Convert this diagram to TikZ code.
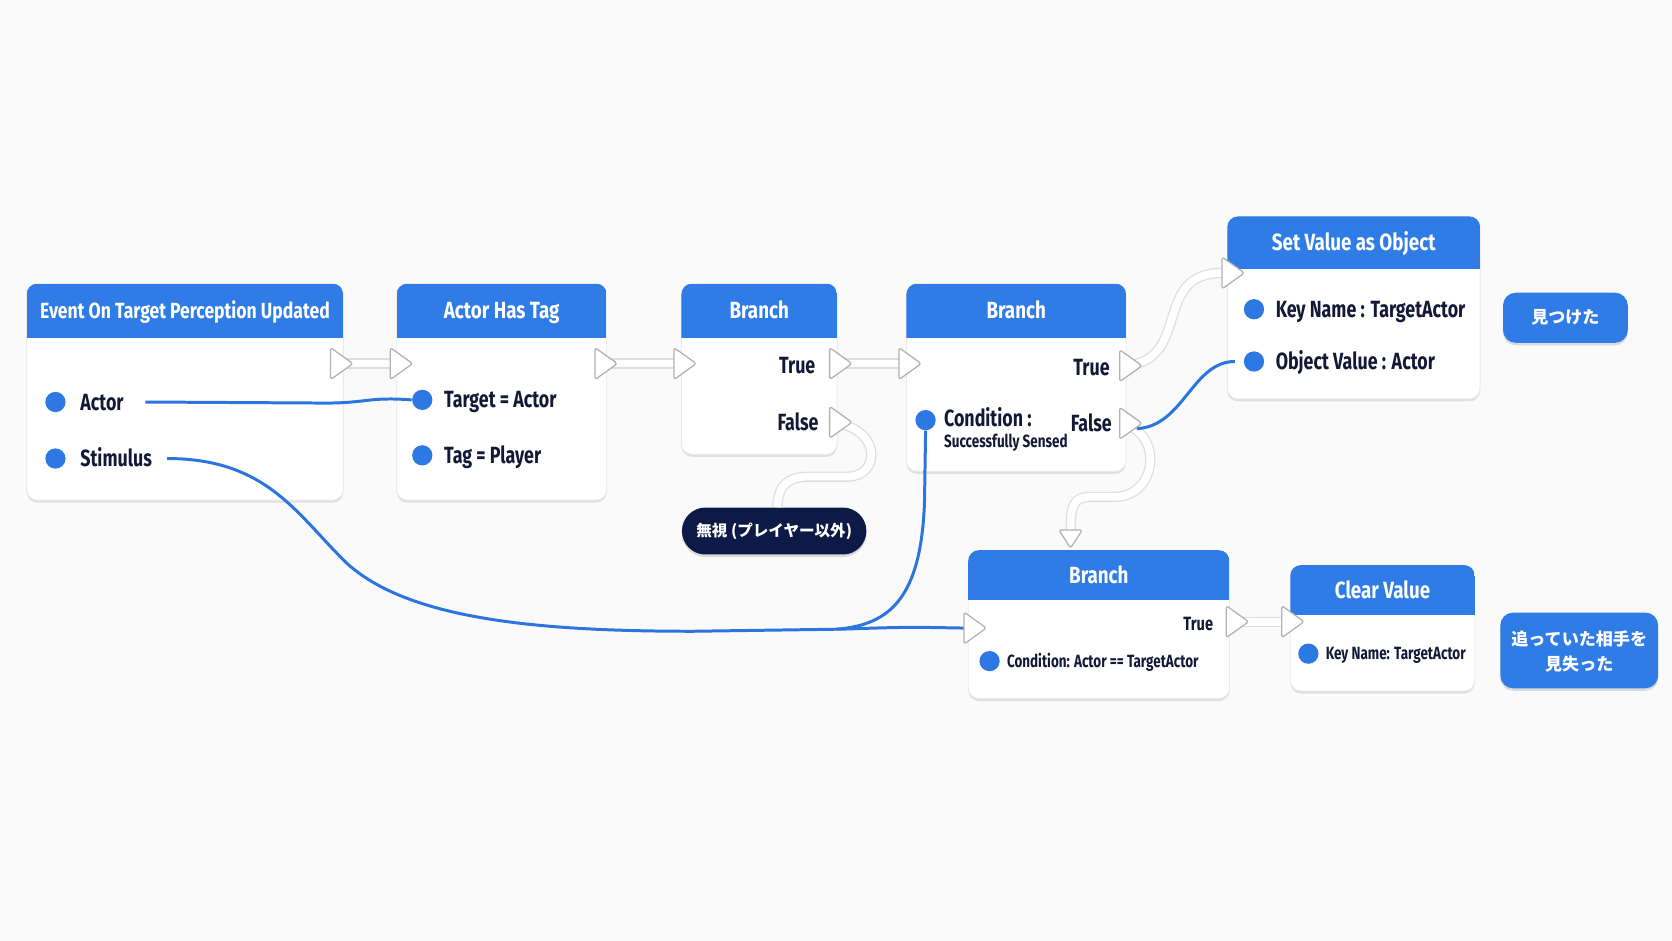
\documentclass[tikz,border=0pt]{standalone}
\usepackage{fontspec}
\usetikzlibrary{fit,shadows}
\newfontfamily\ui[FakeStretch=0.8]{Fira Sans}
\newfontfamily\uil[FakeStretch=0.76]{Fira Sans}
\newfontfamily\jp{Noto Sans CJK JP}
\definecolor{hdrblue}{HTML}{2F7CE6}
\definecolor{dotblue}{HTML}{2E78E3}
\definecolor{ink}{HTML}{111936}
\definecolor{navy}{HTML}{0C1A45}
\definecolor{bgc}{HTML}{FAFAFB}
\definecolor{wireblue}{HTML}{2C74DE}
\tikzset{
  card/.style={draw=black!8, line width=0.4pt, fill=white, rounded corners=5pt, inner sep=0pt,
    drop shadow={shadow xshift=0pt, shadow yshift=-1.2pt, opacity=0.10, fill=black}},
  ttl/.style={text=white, font=\ui\bfseries\fontsize{11}{13}\selectfont, inner sep=0pt,
    text height=7.6pt, text depth=0pt},
  lbl/.style={text=ink, font=\uil\bfseries\fontsize{11}{13}\selectfont, inner sep=0pt,
    text height=7.6pt, text depth=0pt},
  slbl/.style={text=ink, font=\uil\bfseries\fontsize{8.3}{10}\selectfont, inner sep=0pt,
    text height=5.7pt, text depth=0pt},
  pdot/.style={circle, fill=dotblue, minimum size=9.5pt, inner sep=0pt},
  dataw/.style={draw=wireblue, line width=1.4pt},
  execw/.style={draw=black!13, double=white, double distance=3.6pt, line width=0.6pt},
  pinst/.style={draw=black!30, fill=white, line width=0.6pt, rounded corners=1.2pt, line join=round},
  jplbl/.style={text=white, font=\jp\bfseries\fontsize{8}{12}\selectfont, inner sep=0pt, align=center},
  pillshadow/.style={drop shadow={shadow xshift=0pt, shadow yshift=-1.2pt, opacity=0.12, fill=black}},
}
\newcommand\mkcard[7]{%
  \node[card, fit={(#2,#3) (#4,#5)}] (#1) {};
  \begin{scope}
    \clip[rounded corners=5pt] (#2,#3) rectangle (#4,#5);
    \fill[hdrblue] (#2,#3) rectangle (#4,#6);
  \end{scope}
  \node[ttl] (#1t) at ({(#2+#4)/2},{(#3+#6)/2}) {#7};}
\newcommand\pinR[1]{\draw[pinst] ([shift={(0,-15)}]#1) -- ([shift={(21,0)}]#1) -- ([shift={(0,15)}]#1) -- cycle;}
\begin{document}
\begin{tikzpicture}[x=0.5pt, y=-0.5pt]
\fill[bgc] (0,0) rectangle (1568,882);
\useasboundingbox (0,0) rectangle (1568,882);

% cards
\mkcard{A}{25}{266}{322}{469}{317}{\fontsize{10.3}{12}\selectfont Event On Target Perception Updated}
\mkcard{B}{372}{266}{569}{469}{317}{Actor Has Tag}
\mkcard{C}{639}{266}{785}{426}{317}{Branch}
\mkcard{D}{850}{266}{1056}{442}{317}{Branch}
\mkcard{E}{1151}{203}{1388}{374}{252}{Set Value as Object}
\mkcard{F}{908}{516}{1153}{655}{563}{Branch}
\mkcard{G}{1210}{530}{1383}{648}{577}{Clear Value}

% pin coordinates
\coordinate (aOut) at (310,341);
\coordinate (bIn) at (366,341);
\coordinate (bOut) at (558,341);
\coordinate (cIn) at (632,341);
\coordinate (cTrue) at (778,341);
\coordinate (cFalse) at (778,396);
\coordinate (dIn) at (843,341);
\coordinate (dTrue) at (1050,343);
\coordinate (dFalse) at (1050,397);
\coordinate (eIn) at (1146,256);
\coordinate (fTop) at (1004,497);
\coordinate (fIn) at (904,589);
\coordinate (fTrue) at (1150,583);
\coordinate (gIn) at (1202,583);

% data pins and labels
\node[pdot] (aActor) at (52,377) {};
\node[lbl, anchor=west] (aActorL) at (75,377) {Actor};
\node[pdot] (aStim) at (52,430) {};
\node[lbl, anchor=west] (aStimL) at (75,430) {Stimulus};
\node[pdot] (bTarget) at (396,375) {};
\node[lbl, anchor=west] (bTargetL) at (416,375) {Target = Actor};
\node[pdot] (bTag) at (396,427) {};
\node[lbl, anchor=west] (bTagL) at (416,427) {Tag = Player};
\node[lbl, anchor=east] (cTrueL) at (765,343) {True};
\node[lbl, anchor=east] (cFalseL) at (768,396) {False};
\node[lbl, anchor=east] (dTrueL) at (1041,345) {True};
\node[lbl, anchor=east] (dFalseL) at (1043,397) {False};
\node[pdot] (dCond) at (868,394) {};
\node[lbl, anchor=west] (dCondL) at (885,392) {Condition :};
\node[slbl, anchor=west] (dCondL2) at (885,414) {Successfully Sensed};
\node[pdot] (eKey) at (1176,290) {};
\node[lbl, anchor=west] (eKeyL) at (1196,290) {Key Name : TargetActor};
\node[pdot] (eObj) at (1176,339) {};
\node[lbl, anchor=west] (eObjL) at (1196,339) {Object Value : Actor};
\node[slbl, anchor=east, font=\uil\bfseries\fontsize{9}{11}\selectfont, text height=6.2pt] (fTrueL) at (1138,585) {True};
\node[pdot] (fCond) at (928,620) {};
\node[slbl, anchor=west] (fCondL) at (944,620) {Condition: Actor == TargetActor};
\node[pdot] (gKey) at (1227,613) {};
\node[slbl, anchor=west] (gKeyL) at (1243,613) {Key Name: TargetActor};

% result pills
\node[fill=navy, rounded corners=11pt, minimum width=86.5pt, minimum height=22pt, inner sep=0pt, pillshadow] (ign) at (726,498) {};
\node[jplbl, font=\jp\bfseries\fontsize{7.3}{11}\selectfont] (ignT) at (726,498) {無視 (プレイヤー以外)};
\node[fill=hdrblue, rounded corners=6pt, minimum width=58.5pt, minimum height=23.5pt, inner sep=0pt, pillshadow] (found) at (1468,298) {};
\node[jplbl] (foundT) at (1468,298) {見つけた};
\node[fill=hdrblue, rounded corners=6pt, minimum width=74pt, minimum height=35.5pt, inner sep=0pt, pillshadow] (lost) at (1481,610) {};
\node[jplbl] (lostT) at (1481,611) {追っていた相手を\\見失った};

% exec wires
\draw[execw] (aOut) -- (bIn);
\draw[execw] (bOut) -- (cIn);
\draw[execw] (cTrue) -- (dIn);
\draw[execw] (cFalse) .. controls (828,400) and (826,447) .. (795,447) -- (755,447)
  .. controls (732,449) and (730,462) .. ([xshift=1.5pt]ign.north);
\draw[execw] (dTrue) .. controls (1120,343) and (1078,256) .. (eIn);
\draw[execw] (dFalse) .. controls (1092,404) and (1086,466) .. (1045,466) -- (1022,466)
  .. controls (1006,466) and (1004,476) .. (fTop);
\draw[execw] (fTrue) -- (gIn);

% data wires
\draw[dataw] ([xshift=10pt]aActorL.east) -- (305,378) .. controls (345,378) and (345,372) .. (bTarget.west);
\draw[dataw] ([xshift=7pt]aStimL.east) .. controls (250,430) and (278,482) .. (325,528)
  .. controls (382,580) and (500,592) .. (650,592) -- (790,590) .. controls (850,588) .. (fIn);
\draw[dataw] (dCond.south) -- (867,470) .. controls (864,560) and (835,586) .. (785,590);
\draw[dataw] (dFalse) ++(16,5) .. controls (1110,400) and (1118,339) .. ([xshift=-4pt]eObj.west);

% exec pins
\pinR{aOut}\pinR{bIn}\pinR{bOut}\pinR{cIn}\pinR{cTrue}\pinR{cFalse}
\pinR{dIn}\pinR{dTrue}\pinR{dFalse}\pinR{eIn}\pinR{fIn}\pinR{fTrue}\pinR{gIn}
\draw[pinst] ([shift={(-11,0)}]fTop) -- ([shift={(11,0)}]fTop) -- ([shift={(0,17)}]fTop) -- cycle;
\end{tikzpicture}
\end{document}
